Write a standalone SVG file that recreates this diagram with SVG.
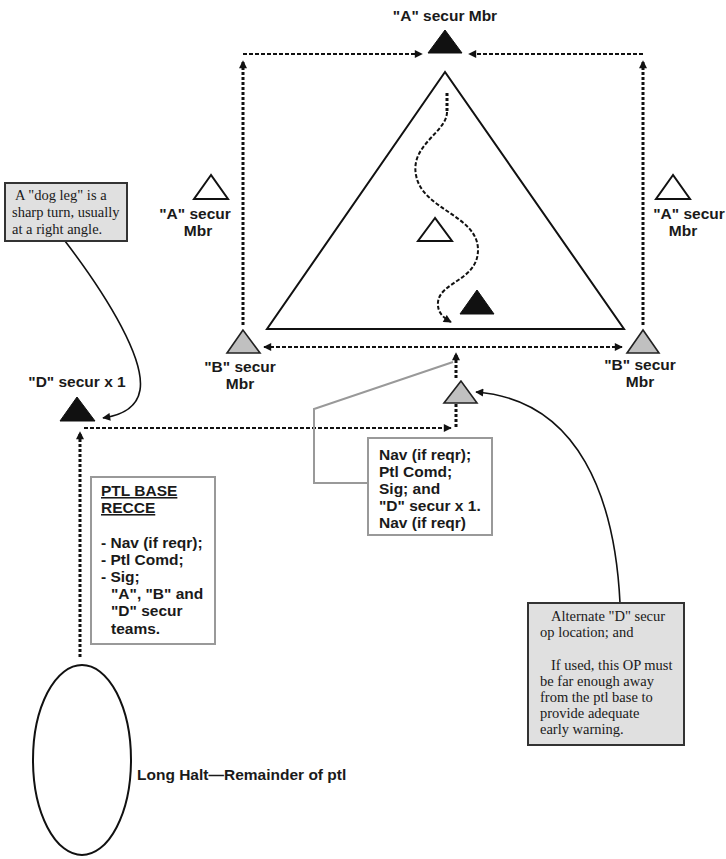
<svg xmlns="http://www.w3.org/2000/svg" width="726" height="859" viewBox="0 0 726 859">
<defs>
<marker id="ah" viewBox="0 0 10 10" refX="9" refY="5" markerWidth="9" markerHeight="8" markerUnits="userSpaceOnUse" orient="auto-start-reverse"><path d="M0,0 L10,5 L0,10 z" fill="#111"/></marker>
<style>
.lbl{font-family:"Liberation Sans",Arial,sans-serif;font-weight:bold;font-size:15.5px;fill:#1a1a1a}
.ser{font-family:"Liberation Serif","Times New Roman",serif;font-size:14.5px;fill:#1a1a1a}
.dh{fill:none;stroke:#111;stroke-width:2;stroke-dasharray:4 2}
.dv{fill:none;stroke:#111;stroke-width:3;stroke-dasharray:3 2}
.cv{fill:none;stroke:#111;stroke-width:1.6}
.tw{fill:#fff;stroke:#111;stroke-width:2}
.tb{fill:#111;stroke:#111;stroke-width:1}
.tg{fill:#c0c0c0;stroke:#222;stroke-width:1.6}
.gbox{fill:#e0e0e0;stroke:#333;stroke-width:2}
.wbox{fill:#fff;stroke:#999;stroke-width:2}
</style>
</defs>
<rect width="726" height="859" fill="#fff"/>

<g id="patrol-area">
<polygon points="445,72 267,329 624,329" fill="none" stroke="#111" stroke-width="2"/>
</g>

<g id="connectors">
<path class="dh" d="M243,54 L422,54" marker-end="url(#ah)"/>
<path class="dh" d="M643,54 L469,54" marker-end="url(#ah)"/>
<path class="dv" d="M243,325 L243,61" marker-end="url(#ah)"/>
<path class="dv" d="M643,325 L643,61" marker-end="url(#ah)"/>
<path class="dh" d="M264,347 L622,347" marker-start="url(#ah)" marker-end="url(#ah)"/>
<path class="dv" d="M456,378 L456,353" marker-end="url(#ah)"/>
<path class="dv" d="M456,404 L456,427"/>
<path class="dh" d="M84,428 L451,428" marker-end="url(#ah)"/>
<path class="dv" d="M80,657 L80,432" marker-end="url(#ah)"/>
<path class="dv" d="M447,93 L447,112"/>
<path class="dh" d="M447,112 C447,132 410,145 416,175 C422,210 478,215 478,250 C478,280 440,282 438,302 C437,313 444,318 451,322" marker-end="url(#ah)"/>
<polyline points="368,483 314,483 314,409 453,362" fill="none" stroke="#999" stroke-width="2"/>
<path class="cv" d="M65,241 C110,300 145,360 140,390 C137,408 122,415 103,418" marker-end="url(#ah)"/>
<path class="cv" d="M620,603 C615,500 580,400 476,392" marker-end="url(#ah)"/>
</g>

<g id="a-top">
<text class="lbl" x="445" y="21" text-anchor="middle">"A" secur Mbr</text>
<polygon class="tb" points="445,30 428,53 462,53"/>
</g>

<g id="a-left">
<polygon class="tw" points="211,175 194,199 228,199"/>
<text class="lbl" x="195" y="219" text-anchor="middle">"A" secur</text>
<text class="lbl" x="198" y="236" text-anchor="middle">Mbr</text>
</g>

<g id="a-right">
<polygon class="tw" points="673,175 656,199 690,199"/>
<text class="lbl" x="689" y="219" text-anchor="middle">"A" secur</text>
<text class="lbl" x="683" y="236" text-anchor="middle">Mbr</text>
</g>

<g id="a-inner">
<polygon class="tw" points="435,218 418,241 452,241"/>
</g>

<g id="patrol-cmd">
<polygon class="tb" points="477,290 460,314 494,314"/>
</g>

<g id="b-left">
<polygon class="tg" points="243,330 227,353 260,353"/>
<text class="lbl" x="240" y="372" text-anchor="middle">"B" secur</text>
<text class="lbl" x="240" y="389" text-anchor="middle">Mbr</text>
</g>

<g id="b-right">
<polygon class="tg" points="643,330 627,353 659,353"/>
<text class="lbl" x="640" y="370" text-anchor="middle">"B" secur</text>
<text class="lbl" x="640" y="387" text-anchor="middle">Mbr</text>
</g>

<g id="d-secur">
<text class="lbl" x="77" y="387" text-anchor="middle">"D" secur x 1</text>
<polygon class="tb" points="77,397 60,421 95,421"/>
</g>

<g id="d-alt">
<polygon class="tg" points="461,381 444,403 477,403"/>
</g>

<g id="dog-leg-note">
<rect class="gbox" x="5" y="183" width="122" height="58"/>
<text class="ser" x="15" y="200">A "dog leg" is a</text>
<text class="ser" x="12" y="217">sharp turn, usually</text>
<text class="ser" x="12" y="234">at a right angle.</text>
</g>

<g id="nav-box">
<rect class="wbox" x="368" y="438" width="124" height="97"/>
<text class="lbl" x="379" y="460">Nav (if reqr);</text>
<text class="lbl" x="379" y="477">Ptl Comd;</text>
<text class="lbl" x="379" y="494">Sig; and</text>
<text class="lbl" x="379" y="511">"D" secur x 1.</text>
<text class="lbl" x="379" y="528">Nav (if reqr)</text>
</g>

<g id="ptl-base-recce">
<rect class="wbox" x="91" y="477" width="124" height="167"/>
<text class="lbl" x="101" y="496" text-decoration="underline">PTL BASE</text>
<text class="lbl" x="101" y="513" text-decoration="underline">RECCE</text>
<text class="lbl" x="101" y="548">- Nav (if reqr);</text>
<text class="lbl" x="101" y="565">- Ptl Comd;</text>
<text class="lbl" x="101" y="582">- Sig;</text>
<text class="lbl" x="111" y="599">"A", "B" and</text>
<text class="lbl" x="111" y="616">"D" secur</text>
<text class="lbl" x="111" y="634">teams.</text>
</g>

<g id="alt-note">
<rect class="gbox" x="528" y="603" width="156" height="142"/>
<text class="ser" x="551" y="621">Alternate "D" secur</text>
<text class="ser" x="540" y="637">op location; and</text>
<text class="ser" x="551" y="670">If used, this OP must</text>
<text class="ser" x="540" y="686">be far enough away</text>
<text class="ser" x="540" y="702">from the ptl base to</text>
<text class="ser" x="540" y="718">provide adequate</text>
<text class="ser" x="540" y="734">early warning.</text>
</g>

<g id="long-halt">
<ellipse cx="82" cy="760" rx="49" ry="95" fill="none" stroke="#111" stroke-width="2"/>
<text class="lbl" x="137" y="780">Long Halt—Remainder of ptl</text>
</g>
</svg>
